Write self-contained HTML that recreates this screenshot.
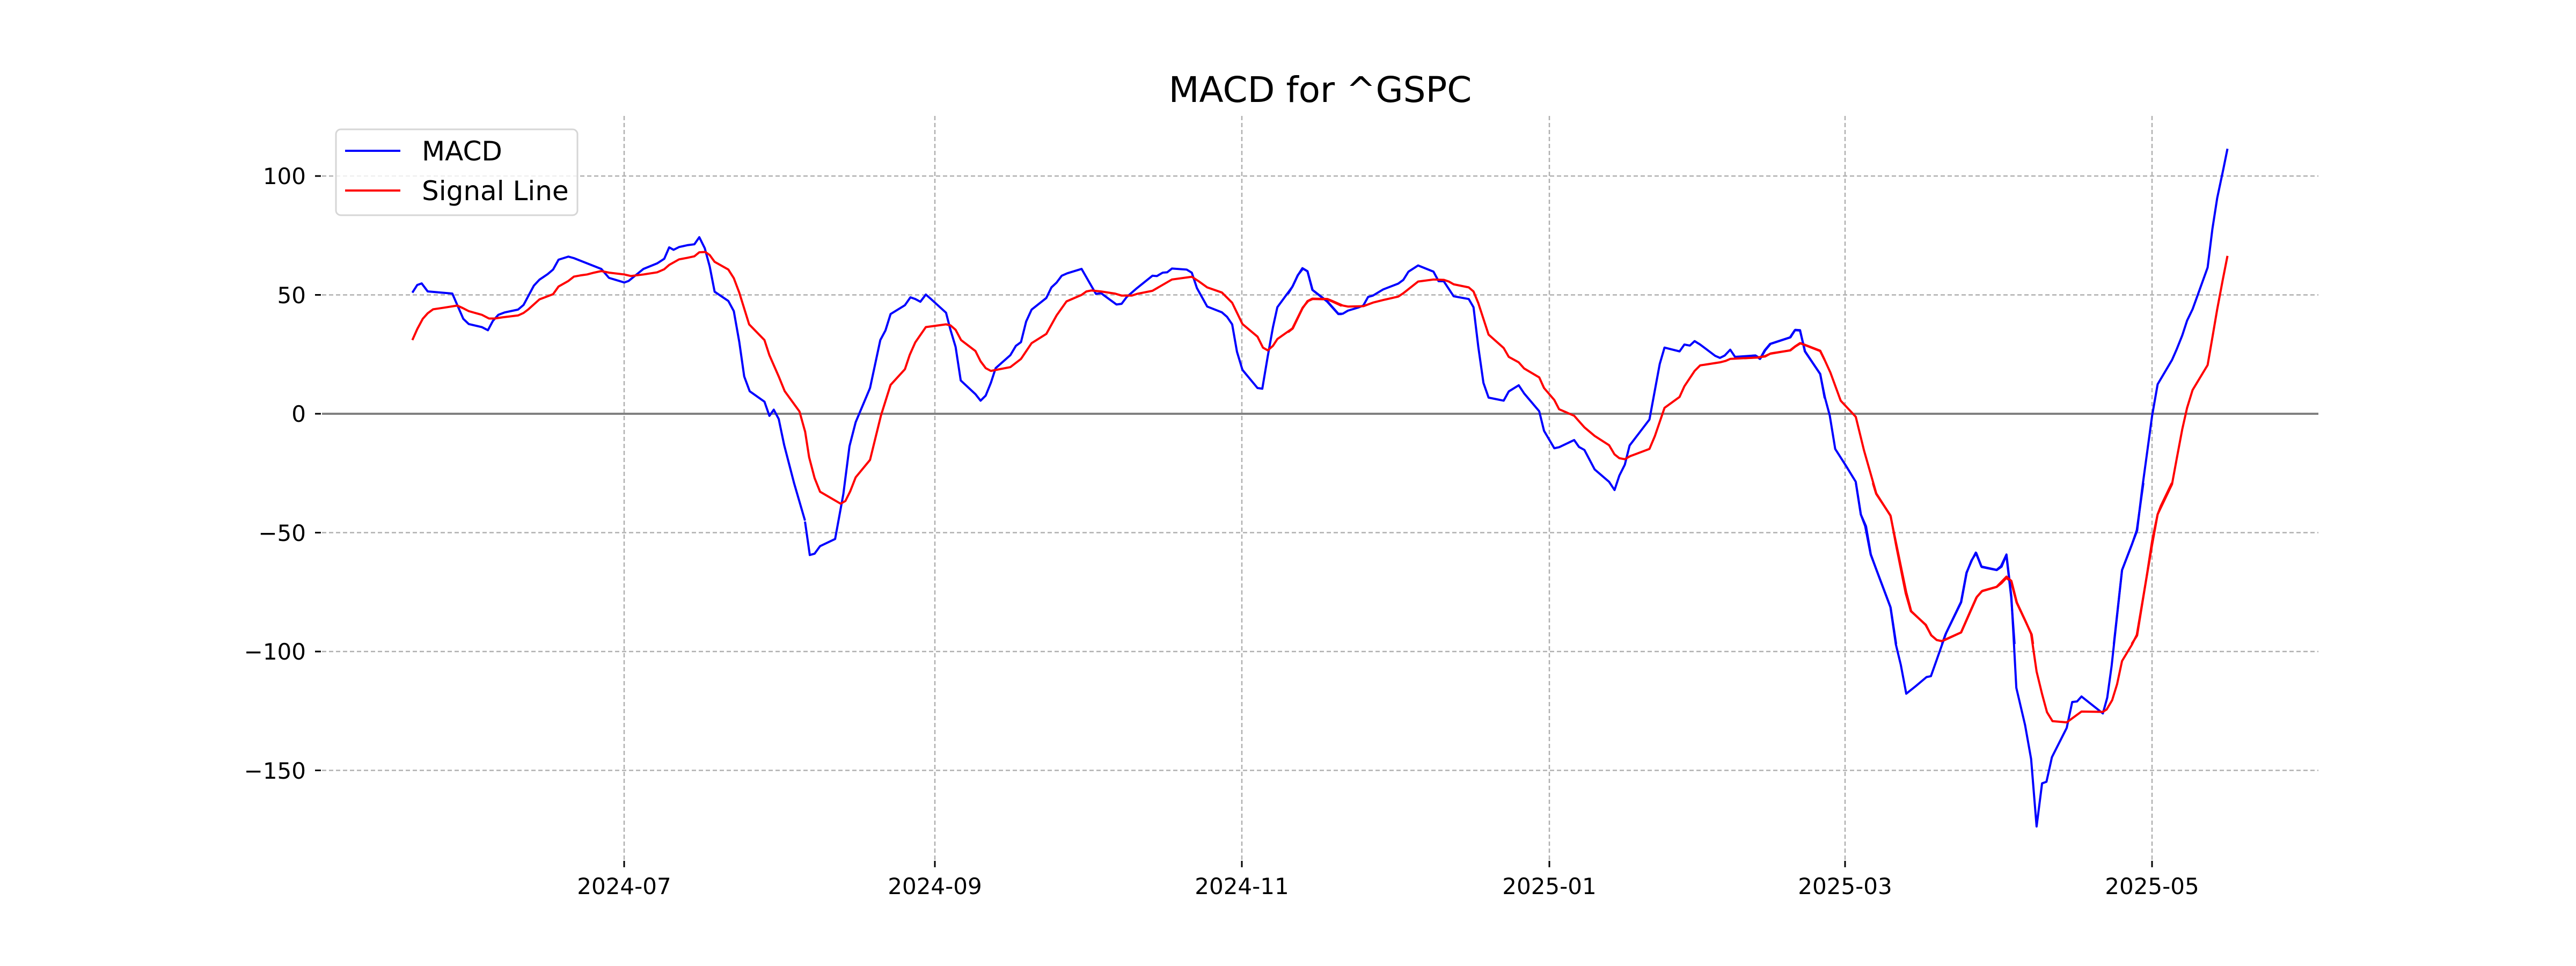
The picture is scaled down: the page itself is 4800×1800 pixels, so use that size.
<!DOCTYPE html>
<html><head><meta charset="utf-8"><style>
html,body{margin:0;padding:0;background:#fff;}
svg{display:block;}
text{font-family:"DejaVu Sans","Liberation Sans",sans-serif;fill:#000;}
.b{fill:none;stroke:#0000ff;stroke-width:4;stroke-linejoin:round;vector-effect:non-scaling-stroke;}
.r{fill:none;stroke:#ff0000;stroke-width:4;stroke-linejoin:round;vector-effect:non-scaling-stroke;}
.g{stroke:#b0b0b0;stroke-width:2.5;stroke-dasharray:8,5;}
.yl{font-size:42px;text-anchor:end;}
.xl{font-size:42px;text-anchor:middle;}
</style></head><body>
<svg width="4800" height="1800" viewBox="0 0 4800 1800" xmlns="http://www.w3.org/2000/svg">
<rect width="4800" height="1800" fill="#fff"/>
<g class="g">
<line x1="600" y1="328" x2="4320" y2="328"/>
<line x1="600" y1="549.5" x2="4320" y2="549.5"/>
<line x1="600" y1="992.5" x2="4320" y2="992.5"/>
<line x1="600" y1="1214" x2="4320" y2="1214"/>
<line x1="600" y1="1435.5" x2="4320" y2="1435.5"/>
<line x1="1163" y1="216" x2="1163" y2="1602"/>
<line x1="1742" y1="216" x2="1742" y2="1602"/>
<line x1="2314" y1="216" x2="2314" y2="1602"/>
<line x1="2887" y1="216" x2="2887" y2="1602"/>
<line x1="3438" y1="216" x2="3438" y2="1602"/>
<line x1="4010" y1="216" x2="4010" y2="1602"/>
</g>
<line x1="600" y1="771" x2="4320" y2="771" stroke="#808080" stroke-width="4"/>
<g stroke="#000" stroke-width="3">
<line x1="587" y1="328" x2="598" y2="328"/><line x1="587" y1="549.5" x2="598" y2="549.5"/>
<line x1="587" y1="771" x2="598" y2="771"/><line x1="587" y1="992.5" x2="598" y2="992.5"/>
<line x1="587" y1="1214" x2="598" y2="1214"/><line x1="587" y1="1435.5" x2="598" y2="1435.5"/>
<line x1="1163" y1="1604" x2="1163" y2="1616"/><line x1="1742" y1="1604" x2="1742" y2="1616"/>
<line x1="2314" y1="1604" x2="2314" y2="1616"/><line x1="2887" y1="1604" x2="2887" y2="1616"/>
<line x1="3438" y1="1604" x2="3438" y2="1616"/><line x1="4010" y1="1604" x2="4010" y2="1616"/>
</g>
<text class="yl" x="570" y="343">100</text>
<text class="yl" x="570" y="565">50</text>
<text class="yl" x="570" y="786">0</text>
<text class="yl" x="570" y="1008">−50</text>
<text class="yl" x="570" y="1229">−100</text>
<text class="yl" x="570" y="1451">−150</text>
<text class="xl" x="1163" y="1666">2024-07</text>
<text class="xl" x="1742" y="1666">2024-09</text>
<text class="xl" x="2314" y="1666">2024-11</text>
<text class="xl" x="2887" y="1666">2025-01</text>
<text class="xl" x="3438" y="1666">2025-03</text>
<text class="xl" x="4010" y="1666">2025-05</text>
<text x="2460" y="190" font-size="66" text-anchor="middle">MACD for ^GSPC</text>

<g transform="translate(0,0) scale(1.0204,0.574)">
<polyline class="b" points="753,950 762,925 770,920 781,946 826,953 835,990 846,1035 856,1052 880,1062 891,1072 900,1042 910,1022 922,1014 946,1005 956,990 975,927 985,908 1000,890 1010,875 1020,843 1038,833 1048,838 1098,873 1112,902 1140,917 1148,912 1175,873 1200,855 1213,840 1222,803 1230,811 1240,802 1255,796 1268,793 1277,770 1287,806 1296,865 1305,947 1330,977 1340,1010 1350,1110 1359,1222 1369,1270 1396,1304 1405,1350 1413,1330 1422,1360 1432,1445 1450,1568 1470,1690"/>
<polyline class="r" points="753,1104 762,1068 772,1035 781,1017 791,1004 810,999 835,992 845,1000 856,1010 880,1022 893,1034 903,1034 918,1030 946,1024 956,1016 965,1004 985,972 1010,955 1020,930 1038,912 1048,898 1060,894 1072,891 1085,885 1098,880 1112,885 1140,891 1152,896 1175,891 1200,884 1213,874 1222,860 1240,842 1255,837 1268,832 1277,819 1288,818 1296,828 1305,850 1330,875 1340,903 1350,950 1368,1053 1396,1104 1405,1153 1422,1222 1433,1270 1460,1336 1470,1400"/>
</g>
<g transform="translate(1500,200) scale(0.6378)">
<polyline class="b" points="0,1210 14,1308 28,1304 44,1282 88,1261 112,1130 130,990 148,920 190,820 220,680 235,652 250,604 292,578 308,555 322,560 337,568 353,547 368,560 412,600 425,650 440,700 455,798 498,838 513,857 528,842 543,805 557,762 600,724 616,697 631,686 646,626 662,591 705,557 720,526 735,512 750,492 766,485 808,472 850,545 865,543 910,576 925,574 940,554 970,528 1015,492 1028,493 1045,483 1058,482 1072,471 1115,474 1130,483 1145,528 1175,582 1218,599 1233,612 1248,634 1262,714 1278,767 1322,820 1336,822 1352,727 1367,643 1380,584 1424,524 1440,490 1455,471 1468,479 1483,534 1525,567 1558,604 1568,604"/>
<polyline class="r" points="0,945 12,1022 28,1083 44,1123 104,1158 118,1150 132,1122 148,1081 190,1030 222,900 250,811 292,765 306,723 322,687 353,642 412,634 425,637 440,650 456,680 498,712 513,742 528,762 543,770 600,759 631,735 662,689 705,662 735,608 764,567 808,548 822,538 837,535 865,538 905,544 925,550 955,550 970,545 1015,536 1072,503 1130,495 1150,508 1175,526 1218,541 1248,571 1262,600 1278,633 1322,670 1338,702 1352,710 1367,697 1380,677 1424,646 1454,585 1470,566 1483,560 1525,561 1540,567 1568,580"/>
</g>
<g transform="translate(2400,200) scale(0.6378)">
<polyline class="b" points="0,545 14,522 28,492 42,470 57,479 71,533 115,567 147,603 160,603 175,594 205,585 220,579 234,554 248,550 278,532 322,515 337,504 352,480 380,462 425,480 440,508 455,508 484,552 528,560 542,584 556,700 571,805 586,848 630,857 645,830 674,812 690,836 734,888 748,945 778,996 792,993 836,972 850,992 866,1001 896,1058 938,1094 954,1118 968,1076 984,1044 998,988 1056,912 1086,750 1100,702 1144,713 1158,693 1174,696 1188,683 1204,693 1248,726 1262,732 1276,725 1292,708 1306,729 1366,725 1380,734 1394,710 1410,691 1468,672 1482,650 1496,651 1510,713 1555,779 1568,850"/>
<polyline class="r" points="0,657 14,646 42,588 57,566 71,559 115,560 130,566 160,579 175,582 220,581 250,570 278,563 322,553 337,543 380,509 425,503 455,504 470,509 484,517 528,526 542,538 556,572 586,664 630,703 645,729 674,745 690,763 734,789 748,820 778,855 792,882 836,901 866,935 896,960 938,987 954,1014 968,1025 984,1028 1000,1019 1056,998 1072,960 1100,878 1144,846 1158,815 1188,770 1204,754 1262,745 1278,741 1292,735 1366,731 1394,728 1410,719 1468,710 1482,699 1498,689 1555,711 1568,738"/>
</g>
<g transform="translate(3250,200) scale(0.6378)">
<polyline class="b" points="0,728 32,725 46,735 60,710 76,691 134,672 148,651 163,652 178,713 222,779 236,848 250,900 266,998 296,1045 326,1094 341,1190 356,1224 370,1306 386,1350 428,1462 444,1568"/>
<polyline class="b" points="578,1568 588,1540 634,1446 650,1360 664,1324 678,1302 694,1343 738,1352 752,1342 766,1308 780,1430 790,1568"/>
<polyline class="b" points="1080,1568 1104,1352 1148,1237 1162,1120 1192,900 1208,809 1250,738 1264,706 1280,666 1294,623 1310,590 1354,468 1368,355 1382,265 1400,180 1412,121"/>
<polyline class="r" points="0,733 40,731 60,727 76,720 134,710 148,699 163,689 222,712 236,740 252,775 282,857 326,904 350,1002 386,1128 428,1194 444,1280 472,1420 487,1472 531,1512 546,1542 562,1556 578,1560 634,1534 680,1430 694,1414 738,1401 752,1390 766,1375 780,1386 796,1447 840,1540 844,1568"/>
<polyline class="r" points="1132,1568 1148,1543 1176,1370 1192,1266 1208,1189 1250,1101 1264,1025 1280,940 1294,878 1310,826 1354,753 1368,672 1382,590 1398,505 1412,434"/>
</g>
<g transform="translate(3200,900) scale(1.0204,0.574)">
<polyline class="b" points="253,0 262,102 270,140 280,232 316,402 326,524 335,590 345,684 362,660 382,630 390,627 401,572 418,486 445,386 455,291 465,250 472,226 482,271 510,282 518,270 528,232 537,370 546,665 562,786 573,896 583,1115 593,975 601,970 611,890 638,795 648,711 657,709 665,693 704,748 712,697 720,594 739,283 757,200 766,153 778,0"/>
<polyline class="r" points="284,0 290,35 316,105 327,200 345,355 354,416 380,460 391,495 401,510 410,513 445,485 463,412 473,372 484,350 510,337 528,304 537,318 547,388 564,453 573,490 583,612 593,685 602,744 612,773 638,777 665,742 704,743 711,735 721,705 730,653 739,578 757,525 766,493 794,200 804,102 810,74 830,0"/>
</g>

<rect x="626" y="241" width="450" height="160" rx="9" ry="9" fill="#fff" fill-opacity="0.8" stroke="#d6d6d6" stroke-width="3"/>
<line x1="643" y1="281" x2="746" y2="281" stroke="#0000ff" stroke-width="4"/>
<line x1="643" y1="355" x2="746" y2="355" stroke="#ff0000" stroke-width="4"/>
<text x="786" y="299" font-size="50">MACD</text>
<text x="786" y="373" font-size="50">Signal Line</text>
</svg>
</body></html>
